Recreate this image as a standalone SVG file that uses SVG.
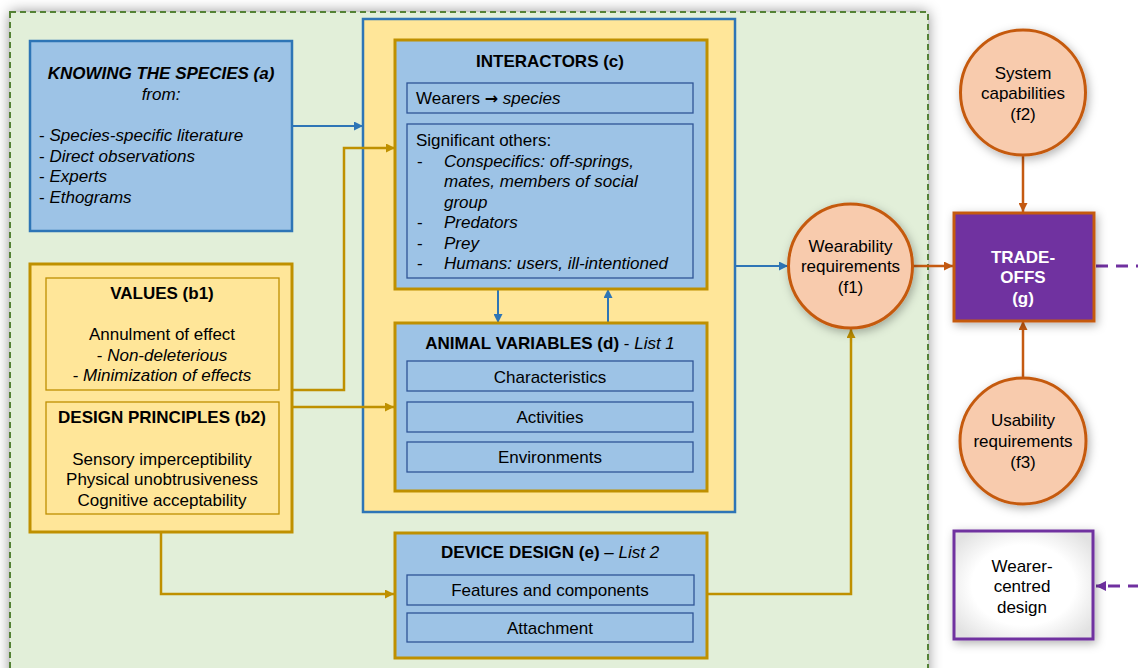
<svg xmlns="http://www.w3.org/2000/svg" width="1138" height="668" viewBox="0 0 1138 668">
<defs>
<style>
text{font-family:"Liberation Sans",Arial,sans-serif;font-size:17px;fill:#000}
.b{font-weight:bold}
.i{font-style:italic}
.c{text-anchor:middle}
.w{fill:#fff;font-weight:bold}
.arr{font-family:"DejaVu Sans",sans-serif;font-weight:bold;font-size:16px}
.blue{fill:#9dc3e6;stroke:#2e75b6;stroke-width:2.5}
.blueG{fill:#9dc3e6;stroke:#bf9000;stroke-width:3}
.sub{fill:#9dc3e6;stroke:#2f5597;stroke-width:1.3}
.yel{fill:#ffe699;stroke:#bf9000;stroke-width:3}
.yelS{fill:#ffe699;stroke:#bf9000;stroke-width:1.3}
.circ{fill:#f8cbad;stroke:#c55a11;stroke-width:3}
.cb{fill:none;stroke:#2e75b6;stroke-width:2}
.cg{fill:none;stroke:#bf9000;stroke-width:2.5}
.co{fill:none;stroke:#c55a11;stroke-width:2.5}
.cp{fill:none;stroke:#7030a0;stroke-width:3;stroke-dasharray:12 8}
</style>
<filter id="sh" x="-10%" y="-10%" width="120%" height="120%">
<feGaussianBlur in="SourceAlpha" stdDeviation="7"/>
<feOffset dx="0" dy="0" result="b"/>
<feFlood flood-color="#000" flood-opacity="0.45"/>
<feComposite in2="b" operator="in"/>
<feMerge><feMergeNode/><feMergeNode in="SourceGraphic"/></feMerge>
</filter>
<filter id="sh2" x="-20%" y="-20%" width="140%" height="140%">
<feGaussianBlur in="SourceAlpha" stdDeviation="5"/>
<feOffset dx="2" dy="3" result="b"/>
<feFlood flood-color="#000" flood-opacity="0.3"/>
<feComposite in2="b" operator="in"/>
<feMerge><feMergeNode/><feMergeNode in="SourceGraphic"/></feMerge>
</filter>
<radialGradient id="wg" cx="50%" cy="50%" r="62%">
<stop offset="0.6" stop-color="#ffffff"/>
<stop offset="1" stop-color="#e2e2e2"/>
</radialGradient>
<marker id="ab" viewBox="0 0 10 10" refX="10" refY="5" markerWidth="9" markerHeight="9" markerUnits="userSpaceOnUse" orient="auto"><path d="M0,0 L10,5 L0,10 z" fill="#2e75b6"/></marker>
<marker id="ag" viewBox="0 0 10 10" refX="10" refY="5" markerWidth="9" markerHeight="9" markerUnits="userSpaceOnUse" orient="auto"><path d="M0,0 L10,5 L0,10 z" fill="#bf9000"/></marker>
<marker id="ao" viewBox="0 0 10 10" refX="10" refY="5" markerWidth="9" markerHeight="9" markerUnits="userSpaceOnUse" orient="auto"><path d="M0,0 L10,5 L0,10 z" fill="#c55a11"/></marker>
<marker id="ap" viewBox="0 0 10 10" refX="10" refY="5" markerWidth="10" markerHeight="10" markerUnits="userSpaceOnUse" orient="auto"><path d="M0,0 L10,5 L0,10 z" fill="#7030a0"/></marker>
</defs>
<rect x="0" y="0" width="1138" height="668" fill="#ffffff"/>
<g id="region">
<rect x="10" y="12" width="918" height="680" fill="#e2efd9" filter="url(#sh)"/>
<rect x="10" y="12" width="918" height="680" fill="none" stroke="#548235" stroke-width="2" stroke-dasharray="6 4"/>
</g>
<g id="container">
<rect x="363" y="19" width="372" height="493" fill="#ffe699" stroke="#2e75b6" stroke-width="2.5"/>
</g>
<g id="connectors">
<path class="cb" d="M293,126 H363" marker-end="url(#ab)"/>
<path class="cg" d="M293,390 H344 V148 H395" marker-end="url(#ag)"/>
<path class="cg" d="M293,407 H394" marker-end="url(#ag)"/>
<path class="cg" d="M161,532 V594 H394" marker-end="url(#ag)"/>
<path class="cb" d="M498,289 V323" marker-end="url(#ab)"/>
<path class="cb" d="M608,323 V289" marker-end="url(#ab)"/>
<path class="cb" d="M735,266 H788" marker-end="url(#ab)"/>
<path class="cg" d="M707,594 H851 V329" marker-end="url(#ag)"/>
<path class="co" d="M913,266 H953" marker-end="url(#ao)"/>
<path class="co" d="M1023,155 V212" marker-end="url(#ao)"/>
<path class="co" d="M1023,378 V321" marker-end="url(#ao)"/>
<path class="cp" d="M1096,266 H1140"/>
<path class="cp" d="M1140,586 H1096" marker-end="url(#ap)"/>
</g>
<g id="knowing">
<rect class="blue" x="30" y="41" width="262" height="190"/>
<text class="c b i" x="161" y="79">KNOWING THE SPECIES (a)</text>
<text class="c i" x="161" y="100">from:</text>
<text x="39" y="141">- <tspan class="i">Species-specific literature</tspan></text>
<text x="39" y="161.5">- <tspan class="i">Direct observations</tspan></text>
<text x="39" y="182">- <tspan class="i">Experts</tspan></text>
<text x="39" y="203">- <tspan class="i">Ethograms</tspan></text>
</g>
<g id="values-principles">
<rect class="yel" x="30" y="264" width="262" height="268"/>
<g id="values">
<rect class="yelS" x="46" y="278" width="233" height="112"/>
<text class="c b" x="162" y="299">VALUES (b1)</text>
<text class="c" x="162" y="339.5">Annulment of effect</text>
<text class="c" x="162" y="360.5">- <tspan class="i">Non-deleterious</tspan></text>
<text class="c" x="162" y="381">- <tspan class="i">Minimization of effects</tspan></text>
</g>
<g id="principles">
<rect class="yelS" x="46" y="402" width="233" height="112"/>
<text class="c b" x="162" y="423">DESIGN PRINCIPLES (b2)</text>
<text class="c" x="162" y="464.5">Sensory imperceptibility</text>
<text class="c" x="162" y="485">Physical unobtrusiveness</text>
<text class="c" x="162" y="505.5">Cognitive acceptability</text>
</g>
</g>
<g id="interactors">
<rect class="blueG" x="395" y="40" width="312" height="249"/>
<text class="c b" x="550" y="67">INTERACTORS (c)</text>
<rect class="sub" x="407" y="83" width="286" height="30"/>
<text x="416" y="104">Wearers <tspan class="arr">→</tspan> <tspan class="i">species</tspan></text>
<rect class="sub" x="407" y="124" width="286" height="154"/>
<text x="416" y="145.5">Significant others:</text>
<text x="417" y="166.5">-</text>
<text class="i" x="444" y="166.5">Conspecifics: off-springs,</text>
<text class="i" x="444" y="187">mates, members of social</text>
<text class="i" x="444" y="207.5">group</text>
<text x="417" y="228">-</text>
<text class="i" x="444" y="228">Predators</text>
<text x="417" y="248.5">-</text>
<text class="i" x="444" y="248.5">Prey</text>
<text x="417" y="269">-</text>
<text class="i" x="444" y="269">Humans: users, ill-intentioned</text>
</g>
<g id="animal">
<rect class="blueG" x="395" y="323" width="312" height="168"/>
<text class="c" x="550" y="349"><tspan class="b">ANIMAL VARIABLES (d)</tspan> - <tspan class="i">List 1</tspan></text>
<rect class="sub" x="407" y="361" width="286" height="30"/>
<text class="c" x="550" y="383">Characteristics</text>
<rect class="sub" x="407" y="402" width="286" height="30"/>
<text class="c" x="550" y="423">Activities</text>
<rect class="sub" x="407" y="442" width="286" height="30"/>
<text class="c" x="550" y="463">Environments</text>
</g>
<g id="device">
<rect class="blueG" x="395" y="533" width="312" height="125"/>
<text class="c" x="550" y="558"><tspan class="b">DEVICE DESIGN (e)</tspan> – <tspan class="i">List 2</tspan></text>
<rect class="sub" x="407" y="575" width="287" height="30" stroke="#2e75b6"/>
<text class="c" x="550" y="596">Features and components</text>
<rect class="sub" x="407" y="613" width="286" height="29" stroke="#2e75b6"/>
<text class="c" x="550" y="633.5">Attachment</text>
</g>
<g id="f1">
<circle class="circ" cx="850.5" cy="266" r="62" filter="url(#sh2)"/>
<text class="c" x="850.5" y="252">Wearability</text>
<text class="c" x="850.5" y="272">requirements</text>
<text class="c" x="850.5" y="292.5">(f1)</text>
</g>
<g id="f2">
<circle class="circ" cx="1023" cy="92.5" r="62.5" filter="url(#sh2)"/>
<text class="c" x="1023" y="78.5">System</text>
<text class="c" x="1023" y="99">capabilities</text>
<text class="c" x="1023" y="120">(f2)</text>
</g>
<g id="f3">
<circle class="circ" cx="1023" cy="441" r="63" filter="url(#sh2)"/>
<text class="c" x="1023" y="426">Usability</text>
<text class="c" x="1023" y="446.5">requirements</text>
<text class="c" x="1023" y="467.5">(f3)</text>
</g>
<g id="tradeoffs">
<rect x="954" y="213" width="140" height="108" fill="#7030a0" stroke="#c55a11" stroke-width="3" filter="url(#sh2)"/>
<text class="c w" x="1023" y="263">TRADE-</text>
<text class="c w" x="1023" y="283">OFFS</text>
<text class="c w" x="1023" y="304">(g)</text>
</g>
<g id="wearer-centred">
<rect x="954" y="531" width="139" height="108" fill="url(#wg)" stroke="#7030a0" stroke-width="3" filter="url(#sh2)"/>
<text class="c" x="1022" y="572">Wearer-</text>
<text class="c" x="1022" y="592">centred</text>
<text class="c" x="1022" y="613">design</text>
</g>
</svg>
